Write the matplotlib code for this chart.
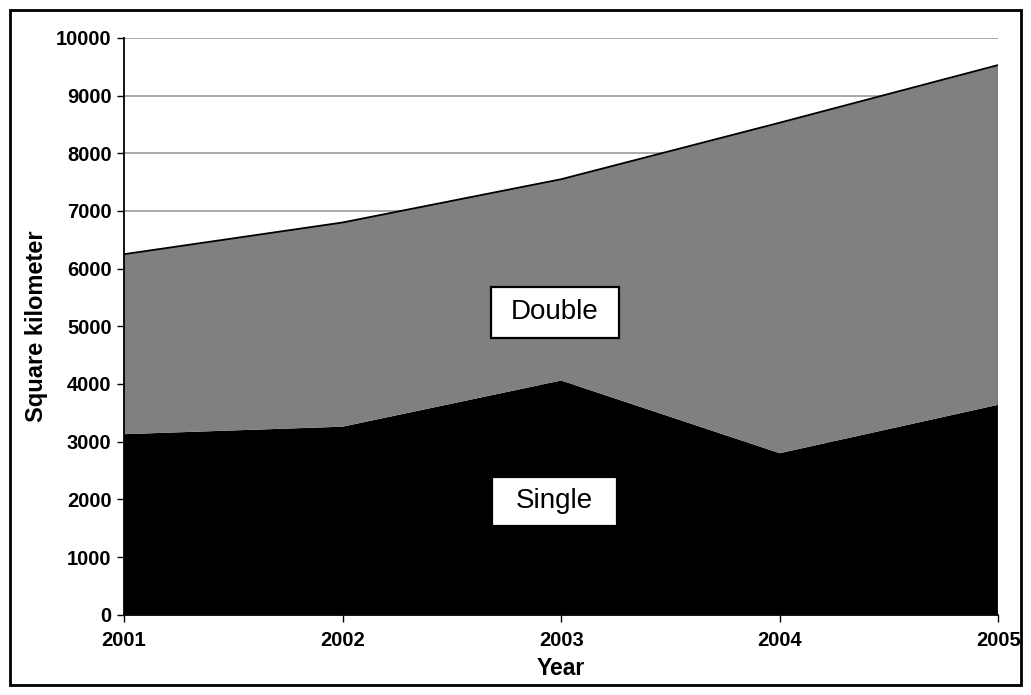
import matplotlib.pyplot as plt
from matplotlib.patches import Rectangle

# Data (square kilometer)
years = [2001, 2002, 2003, 2004, 2005]
single = [3130, 3260, 4060, 2800, 3640]
double = [3120, 3540, 3490, 5730, 5890]
yticks = list(range(0, 10001, 1000))

plt.rcParams['font.family'] = ['Liberation Sans', 'DejaVu Sans']

fig = plt.figure(figsize=(10.31, 6.95), dpi=100)
ax = fig.add_axes([0.1203, 0.1155, 0.848, 0.83])

# Horizontal gridlines behind the areas
for y in yticks[1:]:
    ax.axhline(y, color='#999999', lw=1.2, zorder=0)

ax.stackplot(years, single, double, colors=['black', '#808080'], zorder=1)
total = [s + d for s, d in zip(single, double)]
ax.plot(years, total, color='black', lw=1.3, zorder=2)
ax.plot([years[-1], years[-1]], [0, total[-1]], color='#555555', lw=1, zorder=2)

ax.set_xlim(years[0], years[-1])
ax.set_ylim(0, 10000)
ax.set_xticks(years)
ax.set_yticks(yticks)
ax.tick_params(axis='both', direction='out', length=5, width=1, labelsize=14.5)
ax.tick_params(axis='x', pad=7)
ax.tick_params(axis='y', pad=4)
for lab in ax.get_xticklabels() + ax.get_yticklabels():
    lab.set_fontweight('bold')

ax.spines['top'].set_visible(False)
ax.spines['right'].set_visible(False)
ax.spines['left'].set_linewidth(1.3)
ax.spines['bottom'].set_linewidth(1.3)

ax.set_xlabel('Year', fontsize=16.5, fontweight='bold', labelpad=5)
ax.set_ylabel('Square kilometer', fontsize=17, fontweight='bold', labelpad=6)

# Series labels in boxes (box extents in axes fraction)
boxes = [('Double', 0.4196, 0.4803, 0.1460, 0.0885),
         ('Single', 0.4214, 0.1543, 0.1423, 0.0850)]
for name, bx, by, bw, bh in boxes:
    ax.add_patch(Rectangle((bx, by), bw, bh, transform=ax.transAxes,
                           facecolor='white', edgecolor='black', lw=1.6, zorder=3))
    ax.text(bx + bw / 2, by + bh / 2, name, transform=ax.transAxes, fontsize=20,
            ha='center', va='center', zorder=4)

# Outer frame around the figure
fig.patches.append(Rectangle((10 / 1031, 10 / 695), 1 - 20 / 1031, 1 - 20 / 695,
                             transform=fig.transFigure, fill=False,
                             edgecolor='black', lw=2))

fig.savefig('out.png', dpi=100)
